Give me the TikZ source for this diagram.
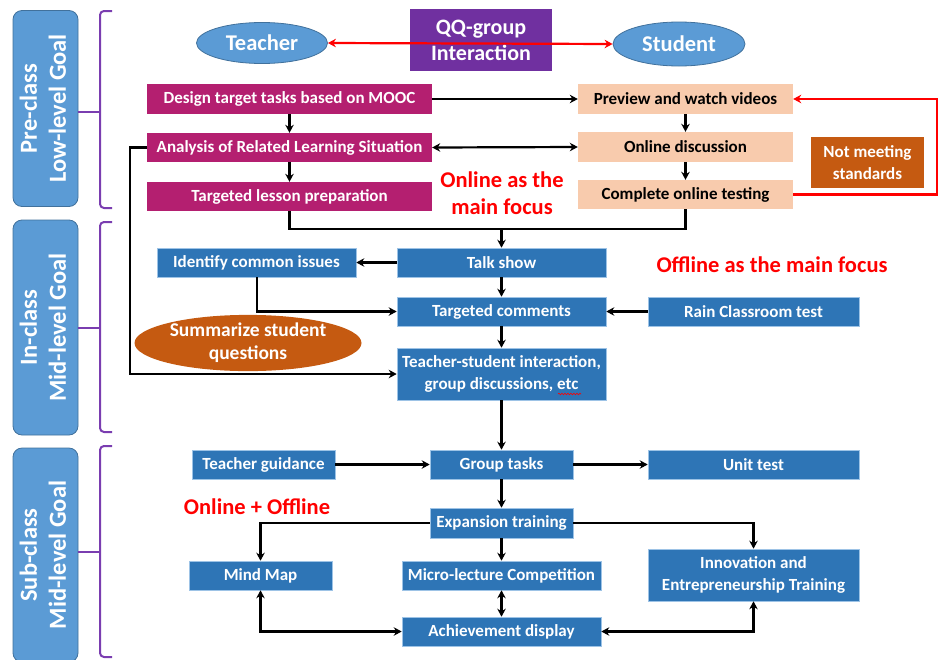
\documentclass[tikz,border=0pt]{standalone}
\usepackage{fontspec}
\setmainfont{Carlito}
\usetikzlibrary{arrows.meta,shapes.geometric,decorations.pathmorphing}

\definecolor{boxblue}{HTML}{2E75B6}
\definecolor{boxedge}{HTML}{9DC3E6}
\definecolor{lightblue}{HTML}{5B9BD5}
\definecolor{lightedge}{HTML}{41719C}
\definecolor{magentabox}{HTML}{B41F70}
\definecolor{peach}{HTML}{F8CBAD}
\definecolor{rust}{HTML}{C55A11}
\definecolor{qqpurple}{HTML}{7030A0}
\definecolor{bracecol}{HTML}{7A3DB0}
\definecolor{alertred}{HTML}{FF0000}

\tikzset{
  x=1pt, y=-1pt,
  basebox/.style={rectangle, inner sep=0pt, align=center,
    font=\bfseries\fontsize{17}{20}\selectfont},
  bluebox/.style={basebox, fill=boxblue, draw=boxedge, line width=0.6pt, text=white},
  magbox/.style={basebox, fill=magentabox, draw=none, text=white},
  peachbox/.style={basebox, fill=peach, draw=none, text=black},
  sidelabel/.style={rectangle, rounded corners=9pt, fill=lightblue, draw=lightedge,
    line width=0.8pt, text=white, align=center, inner sep=0pt,
    font=\bfseries\fontsize{24.5}{29}\selectfont},
  roleoval/.style={ellipse, fill=lightblue, draw=lightedge, line width=0.8pt,
    inner sep=0pt, text=white, font=\bfseries\fontsize{22.5}{26}\selectfont},
  redtext/.style={text=alertred, align=center, font=\bfseries\fontsize{22.5}{27}\selectfont},
  conn/.style={draw=black, line width=2.2pt},
  arr/.style={conn, -{Stealth[length=8pt,width=8.5pt]}},
  darr/.style={conn, {Stealth[length=8pt,width=8.5pt]}-{Stealth[length=8pt,width=8.5pt]}},
  redarr/.style={draw=alertred, line width=2.2pt, -{Stealth[length=8pt,width=8.5pt]}},
  bracket/.style={draw=bracecol, line width=2pt, rounded corners=4pt},
}

\begin{document}
\begin{tikzpicture}
\useasboundingbox (0,0) rectangle (945,659);

% stage labels on the left
\node[sidelabel, minimum width=65pt, minimum height=196pt] (pre) at (45.5,108.5)
  {\rotatebox{90}{\begin{tabular}{c}Pre-class\\Low-level Goal\end{tabular}}};
\node[sidelabel, minimum width=65pt, minimum height=215pt] (inc) at (45.5,327.5)
  {\rotatebox{90}{\begin{tabular}{c}In-class\\Mid-level Goal\end{tabular}}};
\node[sidelabel, minimum width=65pt, minimum height=214pt] (sub) at (45.5,555)
  {\rotatebox{90}{\begin{tabular}{c}Sub-class\\Mid-level Goal\end{tabular}}};

% brackets grouping each stage
\draw[bracket] (112,11) -| (100,208) -- (112,208);
\draw[bracecol, line width=2pt] (pre.east |- 0,112) -- (100,112);
\draw[bracket] (112,222) -| (100,432) -- (112,432);
\draw[bracecol, line width=2pt] (inc.east |- 0,328) -- (100,328);
\draw[bracket] (112,446) -| (100,657) -- (112,657);
\draw[bracecol, line width=2pt] (sub.east |- 0,552) -- (100,552);

% header
\node[roleoval, minimum width=131pt, minimum height=41pt] (teacher) at (262,43) {Teacher};
\node[roleoval, minimum width=132pt, minimum height=44pt] (student) at (679,44) {Student};
\node[rectangle, fill=qqpurple, text=white, align=center, inner sep=0pt,
  minimum width=142pt, minimum height=62pt,
  font=\bfseries\fontsize{22}{26}\selectfont] (qq) at (481,40) {QQ-group\\Interaction};
\draw[draw=alertred, line width=2.2pt, {Stealth[length=8pt,width=8.5pt]}-{Stealth[length=8pt,width=8.5pt]}]
  (teacher.east) -- (student.west);

% pre-class: teacher side
\node[magbox, minimum width=285pt, minimum height=30pt] (design) at (289.5,99) {Design target tasks based on MOOC};
\node[magbox, minimum width=285pt, minimum height=29pt] (analysis) at (289.5,147.5) {Analysis of Related Learning Situation};
\node[magbox, minimum width=285pt, minimum height=29pt] (lesson) at (289.5,196.5) {Targeted lesson preparation};

% pre-class: student side
\node[peachbox, minimum width=215pt, minimum height=30pt] (preview) at (685.5,99) {Preview and watch videos};
\node[peachbox, minimum width=215pt, minimum height=30pt] (discuss) at (685.5,147) {Online discussion};
\node[peachbox, minimum width=215pt, minimum height=29pt] (testing) at (685.5,194.5) {Complete online testing};
\node[basebox, fill=rust, text=white, minimum width=113pt, minimum height=51pt,
  font=\bfseries\fontsize{17}{22}\selectfont] (notmeet) at (867.5,162.5)
  {Not meeting\\standards};

\node[redtext] (online) at (502,193) {Online as the\\main focus};

\draw[arr] (design) -- (analysis);
\draw[arr] (analysis) -- (lesson);
\draw[arr] (preview) -- (discuss);
\draw[arr] (discuss) -- (testing);
\draw[arr] (design.east) -- (preview.west);
\draw[darr] (analysis.east) -- (discuss.west);
\coordinate (loopx) at (937,0);
\draw[redarr] (testing.east) -- (testing.east -| loopx) |- (preview.east);

% in-class
\node[bluebox, minimum width=209pt, minimum height=29pt] (talk) at (501.5,262.5) {Talk show};
\node[bluebox, minimum width=199pt, minimum height=29pt] (identify) at (256.5,262.5) {Identify common issues};
\node[bluebox, minimum width=209pt, minimum height=29pt] (comments) at (501.5,311.5) {Targeted comments};
\node[bluebox, minimum width=211pt, minimum height=29pt] (rain) at (753.5,311.5) {Rain Classroom test};
\node[bluebox, minimum width=209pt, minimum height=52pt,
  font=\bfseries\fontsize{17}{22}\selectfont] (interact) at (501.5,374)
  {Teacher-student interaction,\\group discussions, etc};
\draw[alertred, line width=0.6pt, decorate, decoration={snake, amplitude=0.8pt, segment length=3pt}]
  (558,394) -- (581,394);
\node[ellipse, fill=rust, text=white, inner sep=0pt, align=center,
  minimum width=227pt, minimum height=53pt,
  font=\bfseries\fontsize{19.5}{23}\selectfont] (summ) at (248,343) {Summarize student\\questions};
\node[redtext] (offline) at (772,265) {Offline as the main focus};

\coordinate (join) at (501.5,229);
\draw[conn] (lesson.south) |- (join);
\draw[conn] (testing.south) |- (join);
\draw[arr] (join) -- (talk.north);
\draw[arr] (talk) -- (identify);
\draw[arr] (talk) -- (comments);
\draw[arr] (rain) -- (comments);
\draw[arr] (comments) -- (interact);
\coordinate (idleg) at (257,0);
\draw[arr] (identify.south -| idleg) |- (comments.west);
\coordinate (leftrail) at (130,0);
\draw[arr] (analysis.west) -| (leftrail |- interact.west) -- (interact.west);

% sub-class
\node[bluebox, minimum width=143pt, minimum height=29pt] (group) at (501.5,464.5) {Group tasks};
\node[bluebox, minimum width=143pt, minimum height=29pt] (guide) at (263.5,464.5) {Teacher guidance};
\node[bluebox, minimum width=211pt, minimum height=29pt] (unit) at (753.5,464.5) {Unit test};
\node[redtext] (mixed) at (257,507) {Online + Offline};
\node[bluebox, minimum width=143pt, minimum height=30pt] (expand) at (501.5,523) {Expansion training};
\node[bluebox, minimum width=143pt, minimum height=29pt] (mind) at (260.5,575.5) {Mind Map};
\node[bluebox, minimum width=199pt, minimum height=29pt] (micro) at (501.5,575.5) {Micro-lecture Competition};
\node[bluebox, minimum width=211pt, minimum height=52pt,
  font=\bfseries\fontsize{17}{22}\selectfont] (innov) at (753.5,575)
  {Innovation and\\Entrepreneurship Training};
\node[bluebox, minimum width=199pt, minimum height=29pt] (achieve) at (501.5,631.5) {Achievement display};

\draw[arr] (interact) -- (group);
\draw[arr] (guide) -- (group);
\draw[arr] (group) -- (unit);
\draw[arr] (group) -- (expand);
\draw[arr] (expand) -- (micro);
\draw[darr] (micro) -- (achieve);
\draw[arr] (expand.west) -| (mind.north);
\draw[arr] (expand.east) -| (innov.north);
\draw[darr] (mind.south) |- (achieve.west);
\draw[darr] (achieve.east) -| (innov.south);
\end{tikzpicture}
\end{document}
